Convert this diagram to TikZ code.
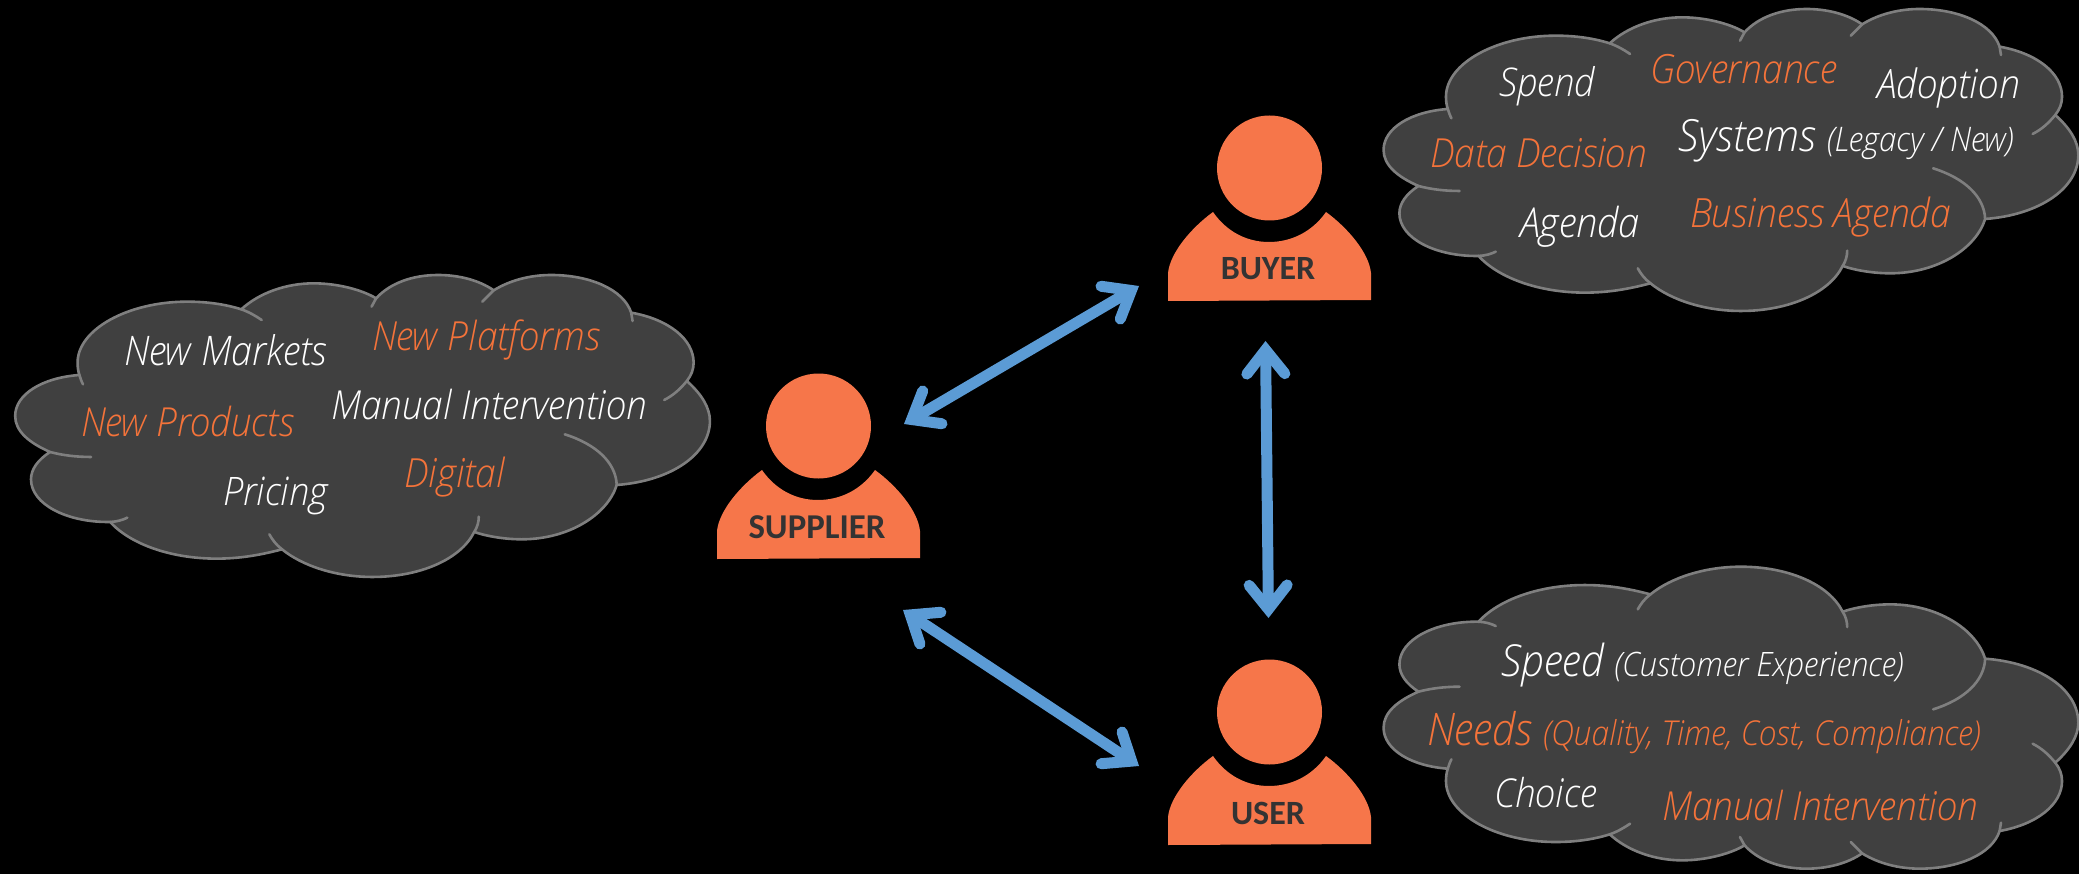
\documentclass[tikz,border=0pt]{standalone}
\usepackage{fontspec}
\usepackage{graphicx}
\usetikzlibrary{arrows.meta}
\setmainfont{Open Sans}
\newfontfamily\cloudfont{Open Sans Light}[ItalicFont=Open Sans Light Italic]
\newfontfamily\labelfont{Carlito}
\definecolor{bgblack}{HTML}{000000}
\definecolor{cloudfill}{HTML}{404040}
\definecolor{cloudline}{HTML}{7F7F7F}
\definecolor{personorange}{HTML}{F6764A}
\definecolor{textorange}{HTML}{F4733A}
\definecolor{arrowblue}{HTML}{5B9BD5}
\definecolor{labeldark}{HTML}{333333}
\tikzset{
  cloudline/.style={draw=cloudline,line width=2.6pt,line cap=round},
  cloudbody/.style={cloudline,fill=cloudfill,line join=round},
  wtext/.style={anchor=base west,inner sep=0pt,outer sep=0pt,text=white,font=\cloudfont\itshape},
  otext/.style={wtext,text=textorange},
  headshape/.style={circle,fill=personorange,minimum size=105pt,inner sep=0pt},
  plabel/.style={anchor=base,inner sep=0pt,text=labeldark,font=\labelfont\bfseries},
  linkarrow/.style={draw=arrowblue,line width=11pt,
    {Straight Barb[length=24pt,width=38pt,line cap=round,line join=miter]}-{Straight Barb[length=24pt,width=38pt,line cap=round,line join=miter]}}
}
\newcommand{\cloudshape}{%
  \path[cloudbody] (107,558) .. controls (60,530) and (30,495) .. (30,450)
    .. controls (30,385) and (90,335) .. (172,327)
    .. controls (169,315) and (168,302) .. (168,290)
    .. controls (168,190) and (280,107) .. (410,107)
    .. controls (455,107) and (495,115) .. (530,130)
    .. controls (570,80) and (630,52) .. (690,52)
    .. controls (740,52) and (795,70) .. (828,97)
    .. controls (860,50) and (910,27) .. (965,27)
    .. controls (1010,27) and (1055,42) .. (1088,73)
    .. controls (1125,42) and (1170,27) .. (1215,27)
    .. controls (1300,27) and (1375,70) .. (1392,140)
    .. controls (1475,160) and (1530,220) .. (1530,290)
    .. controls (1530,310) and (1525,328) .. (1515,345)
    .. controls (1548,385) and (1566,425) .. (1566,465)
    .. controls (1566,565) and (1480,645) .. (1360,657)
    .. controls (1340,745) and (1255,820) .. (1150,820)
    .. controls (1115,820) and (1075,812) .. (1045,798)
    .. controls (1015,880) and (925,933) .. (820,933)
    .. controls (740,933) and (665,900) .. (620,850)
    .. controls (570,868) and (525,878) .. (475,878)
    .. controls (375,878) and (285,835) .. (240,768)
    .. controls (145,770) and (65,715) .. (65,640)
    .. controls (65,610) and (80,582) .. (107,558) -- cycle;
  \path[cloudline] (107,558) .. controls (135,568) and (165,573) .. (198,573);
  \path[cloudline] (180,355) .. controls (176,345) and (174,335) .. (172,327);
  \path[cloudline] (530,130) .. controls (547,138) and (562,150) .. (575,162);
  \path[cloudline] (818,122) -- (828,97);
  \path[cloudline] (1063,107) -- (1088,73);
  \path[cloudline] (1392,140) -- (1395,165);
  \path[cloudline] (1515,345) .. controls (1500,370) and (1485,388) .. (1465,402);
  \path[cloudline] (1245,505) .. controls (1315,535) and (1358,590) .. (1360,657);
  \path[cloudline] (1045,798) .. controls (1052,783) and (1055,768) .. (1055,752);
  \path[cloudline] (620,850) .. controls (607,837) and (598,820) .. (592,805);
  \path[cloudline] (240,768) .. controls (255,767) and (268,762) .. (278,755);
}
\newcommand{\personfig}[5]{%
  \fill[personorange,shift={(#2,#3)}] (-101,133) -- (-101,105)
    .. controls (-99,85) and (-78,60) .. (-56,44)
    .. controls (-42,64) and (-22,74) .. (0,74)
    .. controls (22,74) and (43,64) .. (57,44)
    .. controls (79,60) and (100,85) .. (102,105)
    -- (102,132) -- cycle;
  \node[headshape] (#1head) at (#2+0.5,#3) {};
  \node[plabel] (#1label) at (#2-1,#3+112) {\resizebox{#5pt}{!}{#4}};
}
\newcommand{\cloudtext}[6]{%
  \node[#1] (#2) at (#3,#4) {\scalebox{1}[1.08]{\resizebox{#5pt}{!}{#6}}};
}
\newcommand{\bigpart}[1]{{\fontsize{38}{38}\selectfont #1}}
\newcommand{\smallpart}[1]{{\fontsize{29}{29}\selectfont #1}}
\begin{document}
\begin{tikzpicture}[x=1pt,y=-1pt]
\useasboundingbox (0,0) rectangle (2079,874);
\fill[bgblack] (0,0) rectangle (2079,874);

\begin{scope}[shift={(1.6,266)},x=0.4523pt,y=-0.3333pt] \cloudshape \end{scope}
\begin{scope}[shift={(1370,0)},x=0.4523pt,y=-0.3333pt] \cloudshape \end{scope}
\begin{scope}[shift={(1370,877.67)},x=0.4523pt,y=0.3333pt] \cloudshape \end{scope}

\cloudtext{wtext}{tMarkets}{124}{366}{203}{New Markets}
\cloudtext{otext}{tPlatforms}{372}{351}{228}{New Platforms}
\cloudtext{wtext}{tManualA}{331}{419}{316}{Manual Intervention}
\cloudtext{otext}{tProducts}{81}{436}{213}{New Products}
\cloudtext{wtext}{tPricing}{223}{505}{105}{Pricing}
\cloudtext{otext}{tDigital}{404}{487}{101}{Digital}

\cloudtext{wtext}{tSpend}{1499}{97}{96}{Spend}
\cloudtext{otext}{tGov}{1650}{84}{187}{Governance}
\cloudtext{wtext}{tAdoption}{1877}{99}{143}{Adoption}
\cloudtext{otext}{tData}{1430}{168}{217}{Data Decision}
\cloudtext{wtext}{tSystems}{1678}{152}{336}{\bigpart{Systems}\hspace{7pt} \smallpart{(Legacy / New)}}
\cloudtext{wtext}{tAgenda}{1520}{238}{120}{Agenda}
\cloudtext{otext}{tBusiness}{1690}{228}{261}{Business Agenda}

\cloudtext{wtext}{tSpeed}{1501}{676}{403}{\bigpart{Speed}\hspace{7pt} \smallpart{(Customer Experience)}}
\cloudtext{otext}{tNeeds}{1427}{745}{554}{\bigpart{Needs}\hspace{7pt} \smallpart{(Quality, Time, Cost, Compliance)}}
\cloudtext{wtext}{tChoice}{1494}{807}{103}{Choice}
\cloudtext{otext}{tManualB}{1662}{820}{316}{Manual Intervention}

\personfig{supplier}{818}{426}{SUPPLIER}{137}
\personfig{buyer}{1269}{168}{BUYER}{94.5}
\personfig{user}{1269}{712}{USER}{74}

\coordinate (sbA) at (904,424);
\coordinate (sbB) at (1139,286);
\coordinate (suA) at (903,610);
\coordinate (suB) at (1139,766);
\coordinate (buA) at (1265.5,341);
\coordinate (buB) at (1268.5,618);
\draw[linkarrow] (sbA) -- (sbB);
\draw[linkarrow] (suA) -- (suB);
\draw[linkarrow] (buA) -- (buB);
\end{tikzpicture}
\end{document}
